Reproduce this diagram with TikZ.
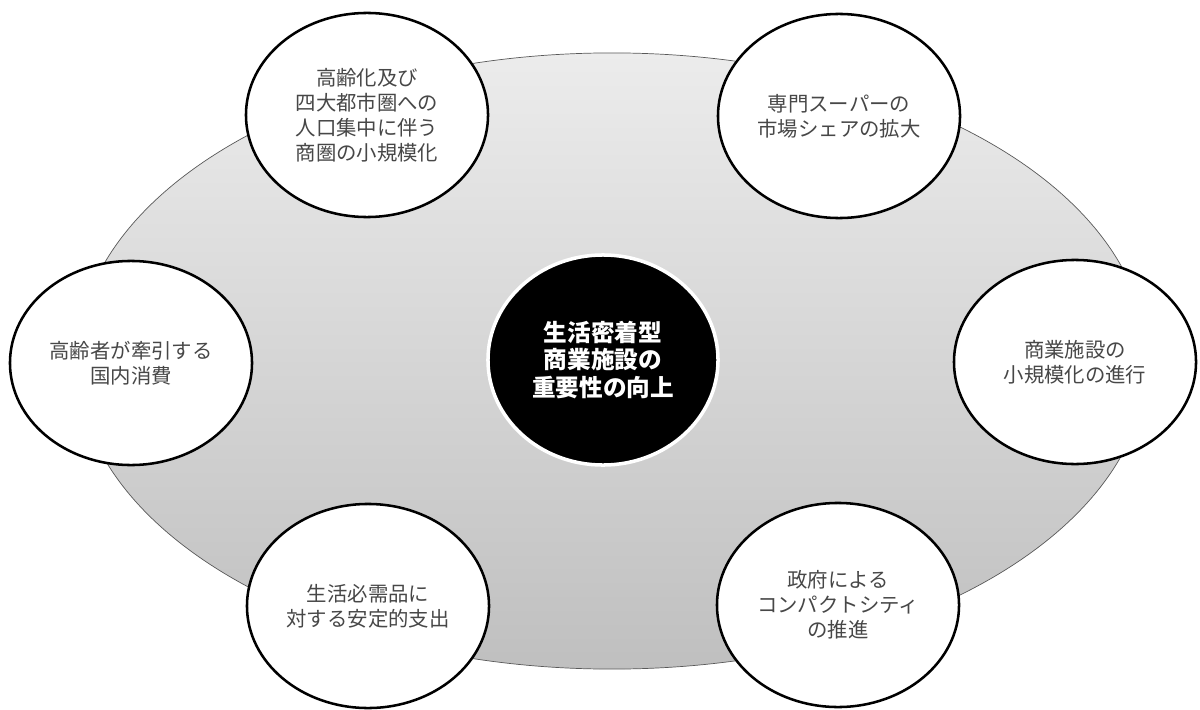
\documentclass[tikz,border=0pt]{standalone}
\usepackage{fontspec}
\setmainfont{Noto Sans CJK JP}
\usetikzlibrary{shapes.geometric,shadows}

\definecolor{txtgray}{HTML}{474747}

\begin{document}
\begin{tikzpicture}[x=0.025cm,y=-0.025cm,
	plate/.style={ellipse,draw=gray!70!black,line width=0.5pt,top color=gray!15,bottom color=gray!50,minimum width=26.75cm,minimum height=15.4cm},
	topic/.style={ellipse,draw,line width=1.8pt,fill=white,minimum width=6.05cm,minimum height=5.1cm,inner sep=0pt,align=center,text=txtgray,font=\fontsize{14.5}{17.8}\selectfont},
	core/.style={ellipse,draw=white,line width=2.5pt,fill=black,drop shadow={opacity=0.35,shadow xshift=0.6pt,shadow yshift=-0.8pt},minimum width=5.75cm,minimum height=5.25cm,inner sep=0pt,align=center,text=white,font=\bfseries\fontsize{16.8}{19.4}\selectfont}]
	\useasboundingbox (0,0) rectangle (1200,709);
	\path (612,361) node[plate] (plate) {};
	\path (603,360) node[core] (core) {生活密着型\\商業施設の\\重要性の向上};
	\path (367,115) node[topic] (aging) {高齢化及び\\四大都市圏への\\人口集中に伴う\\商圏の小規模化}
	(839,116) node[topic] (super) {専門スーパーの\\市場シェアの拡大}
	(131,363) node[topic] (elder) {高齢者が牽引する\\国内消費}
	(1075,362) node[topic] (small) {商業施設の\\小規模化の進行}
	(368,606) node[topic] (needs) {生活必需品に\\対する安定的支出}
	(838,605) node[topic] (compact) {政府による\\コンパクトシティ\\の推進};
%	\draw (core) -- (aging);
\end{tikzpicture}
\end{document}
